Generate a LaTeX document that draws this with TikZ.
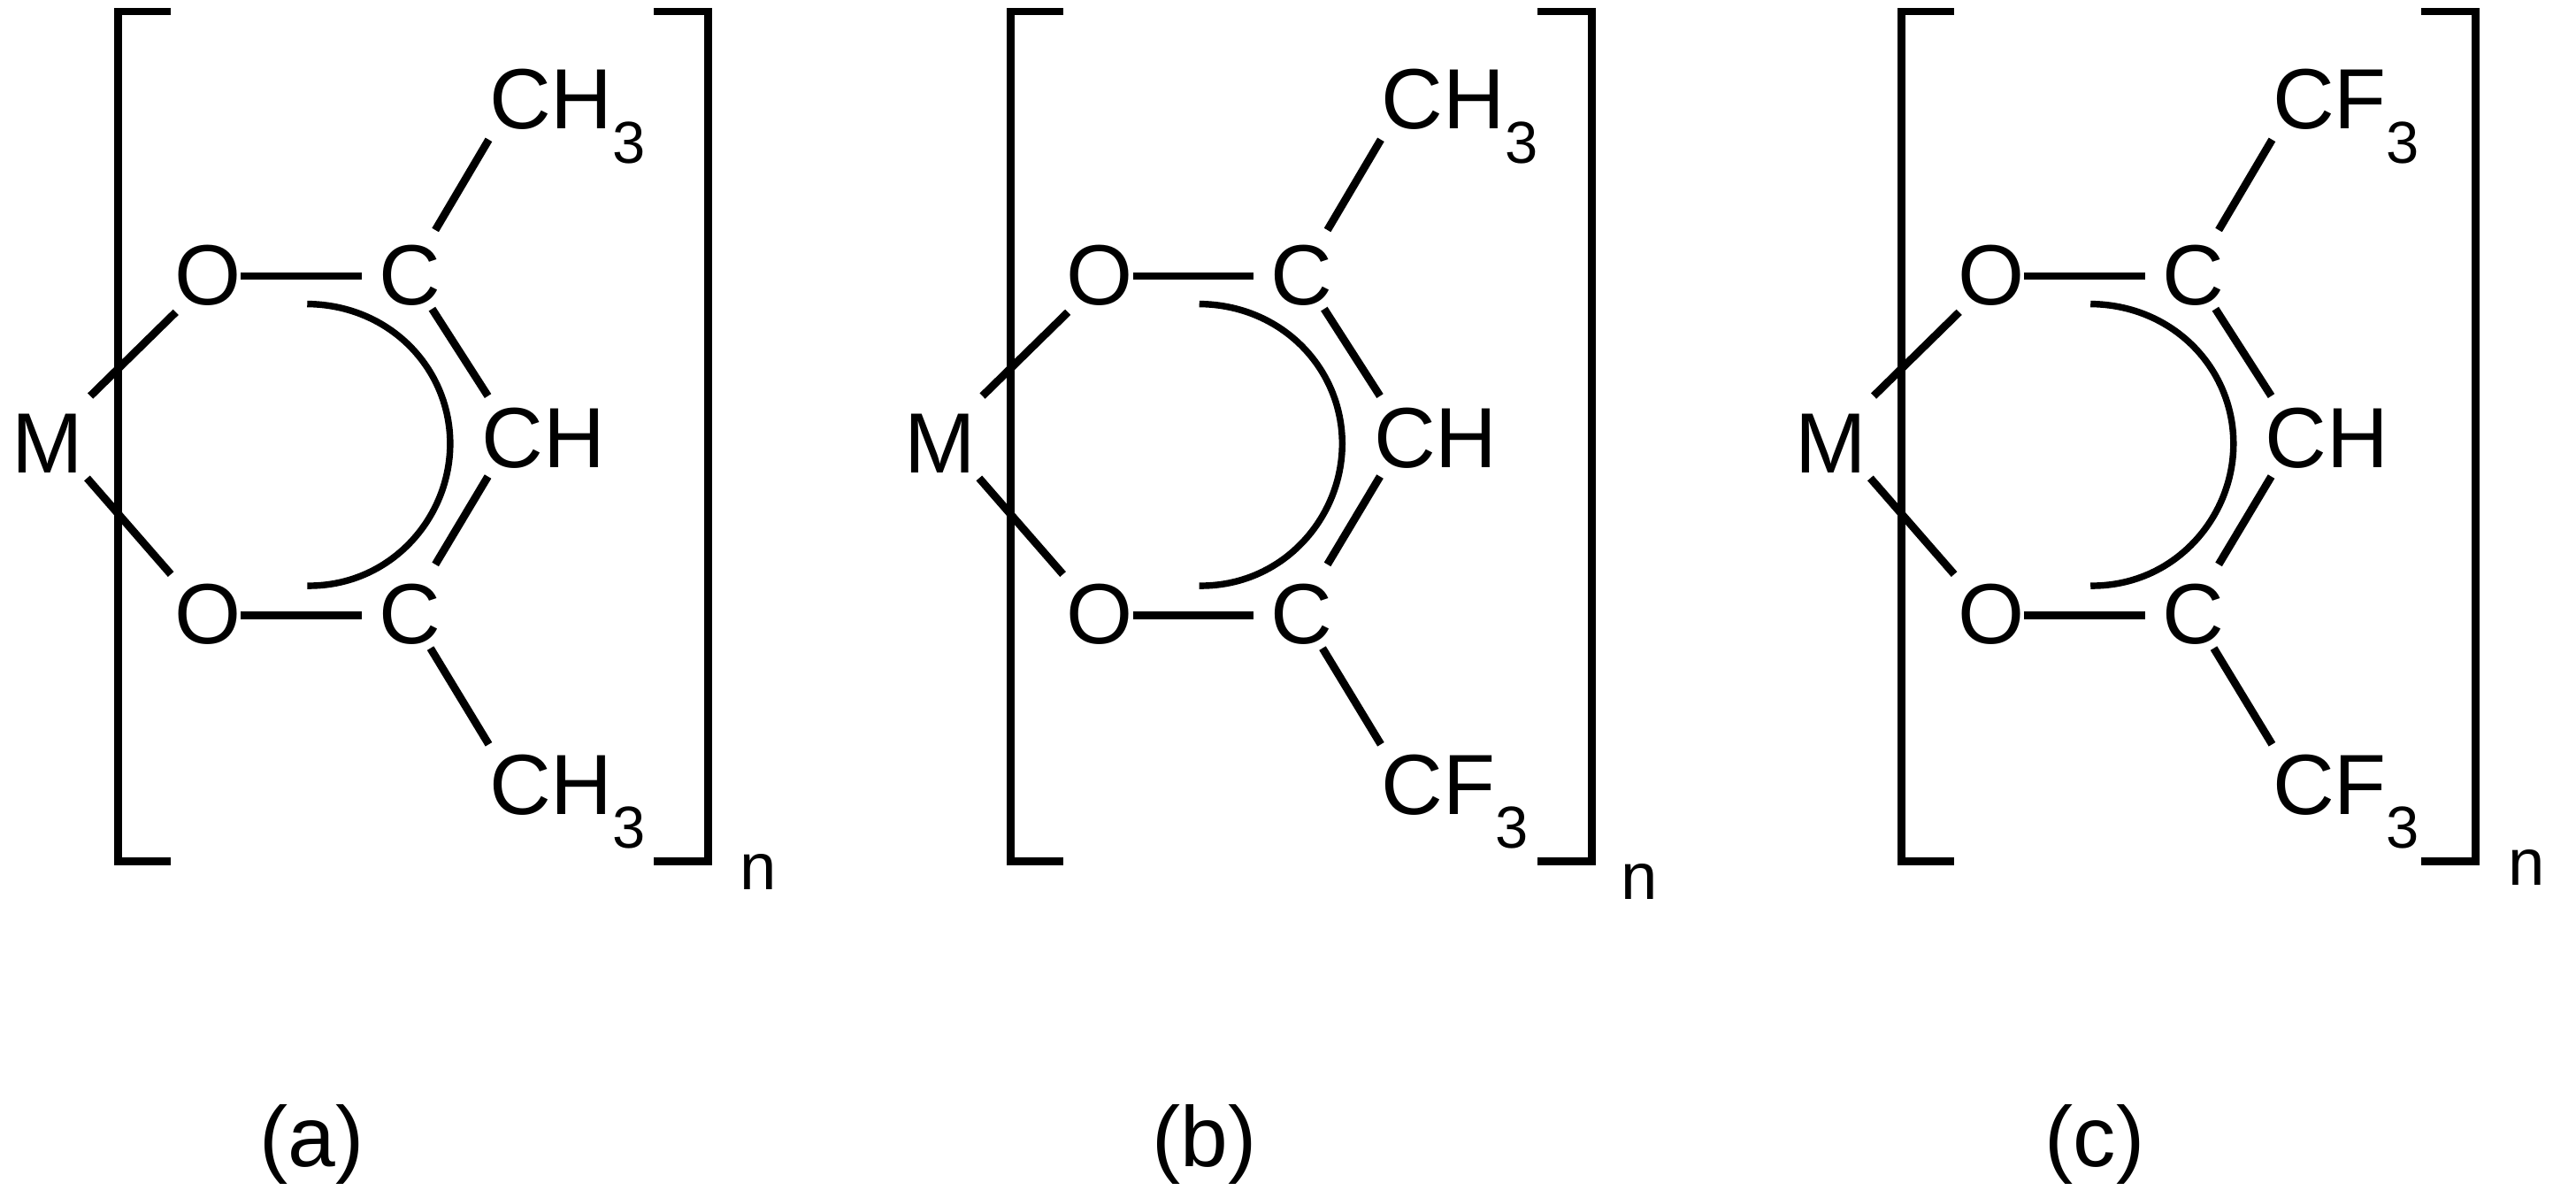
\documentclass[tikz,border=0pt]{standalone}
\usepackage{fontspec}
\setmainfont{Liberation Sans}
\usetikzlibrary{calc}
\newcommand{\atomfont}{\fontsize{29.6pt}{32pt}\selectfont}
\newcommand{\subfont}{\fontsize{20.5pt}{22pt}\selectfont}
\newcommand{\nfont}{\fontsize{22.8pt}{24pt}\selectfont}
\newcommand{\sbs}[1]{\raisebox{-0.4em}{\subfont #1}}
% #1 prefix, #2 x shift, #3 top group, #4 bottom group, #5 x of right bracket (relative)
\newcommand{\molpanel}[5]{%
  \begin{scope}[shift={(#2,0)}]
    \node[atom] (#1M) at (29,288) {M};
    \node[atom] (#1Ot) at (126.5,185.5) {O};
    \node[atom] (#1Ct) at (249.5,185.5) {C};
    \node[atom] (#1Ob) at (126.5,392) {O};
    \node[atom] (#1Cb) at (249.5,392) {C};
    \node[group] (#1CH) at (293,284.5) {CH};
    \node[group] (#1Gt) at (297.5,78.5) {#3};
    \node[group] (#1Gb) at (297.5,495.5) {#4};
    \draw[bond] ($(#1M.base)+(26,-47)$) -- ($(#1Ot.base)+(-19.5,4.5)$);
    \draw[bond] ($(#1M.base)+(24,3)$) -- ($(#1Ob.base)+(-22.5,-42.5)$);
    \draw[bond] ($(#1Ot.base)+(20,-17.5)$) -- ($(#1Ct.base)+(-29.5,-17.5)$);
    \draw[bond] ($(#1Ob.base)+(20,-17.5)$) -- ($(#1Cb.base)+(-29.5,-17.5)$);
    \draw[bond] ($(#1Ct.base)+(15.5,-45.5)$) -- ($(#1Gt.base west)+(0,6.5)$);
    \draw[bond] ($(#1Ct.base)+(13.5,2.5)$) -- ($(#1CH.base west)+(4,-43.5)$);
    \draw[bond] ($(#1CH.base west)+(4,5.5)$) -- ($(#1Cb.base)+(15.5,-48.5)$);
    \draw[bond] ($(#1Cb.base)+(12.5,2.5)$) -- ($(#1Gb.base west)+(0,-42.5)$);
    \draw[arcline] ($(#1Ct.base)+(-62.5,-0.5)$)
      .. controls ($(#1Ct.base)+(-12,0)$) and ($(#1CH.base west)+(-19,-60)$) .. ($(#1CH.base west)+(-19,-14.5)$)
      .. controls ($(#1CH.base west)+(-19,31)$) and ($(#1Cb.base)+(-12,-35)$) .. ($(#1Cb.base)+(-62.5,-35.5)$);
    \draw[bracket] (104,7) -- (72,7) -- (72,524) -- (104,524);
    \draw[bracket] (#5-33,7) -- (#5,7) -- (#5,524) -- (#5-33,524);
  \end{scope}%
}
\tikzset{
  atom/.style={font=\atomfont, inner sep=0pt, anchor=base, text=black},
  group/.style={font=\atomfont, inner sep=0pt, anchor=base west, text=black},
  idx/.style={font=\nfont, inner sep=0pt, anchor=base, text=black},
  caption/.style={font=\atomfont, inner sep=0pt, anchor=base, text=black},
  bond/.style={line width=0.95mm, black},
  arcline/.style={line width=0.8mm, black},
  bracket/.style={line width=0.95mm, black, miter limit=10}
}
\begin{document}
\begin{tikzpicture}[x=0.2mm,y=-0.2mm]
  \path[use as bounding box, fill=white] (0,0) rectangle (1568,729);
  \molpanel{a}{0}{CH\sbs{3}}{CH\sbs{3}}{431}
  \molpanel{b}{543}{CH\sbs{3}}{CF\sbs{3}}{426}
  \molpanel{c}{1085.5}{CF\sbs{3}}{CF\sbs{3}}{421.5}
  \node[idx] (an) at (461.5,541.5) {n};
  \node[idx] (bn) at (998,547.5) {n};
  \node[idx] (cn) at (1538,538.5) {n};
  \node[caption] (al) at (190,710) {(a)};
  \node[caption] (bl) at (733,710) {(b)};
  \node[caption] (cl) at (1275,710) {(c)};
\end{tikzpicture}
\end{document}
